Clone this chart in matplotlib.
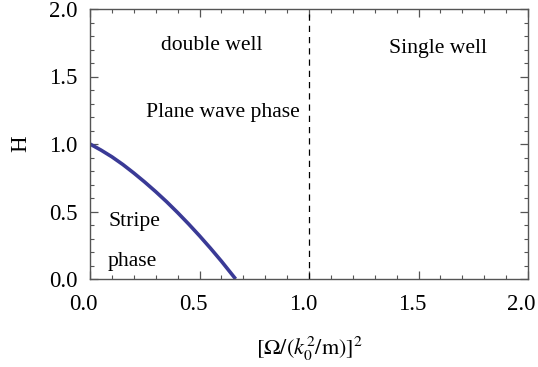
import matplotlib
matplotlib.use("Agg")
import matplotlib.pyplot as plt
from matplotlib.ticker import MultipleLocator, FormatStrFormatter
from matplotlib.transforms import ScaledTranslation

# data
boundary_x = [0.0, 0.05, 0.1, 0.15, 0.2, 0.25, 0.3, 0.35, 0.4, 0.45, 0.5, 0.55, 0.6, 0.665]
boundary_H = [1.0, 0.955, 0.905, 0.848, 0.785, 0.718, 0.647, 0.572, 0.492, 0.408, 0.320, 0.228, 0.132, 0.0]
divider_x = 1.0
region_labels = ["double well", "Plane wave phase", "Single well", "Stripe", "phase"]
region_pos = [(0.556, 1.733), (0.607, 1.23), (1.589, 1.71), (0.203, 0.425), (0.195, 0.128)]

plt.rcParams['font.family'] = ['Liberation Serif', 'DejaVu Serif']
plt.rcParams['mathtext.fontset'] = 'stix'

fig = plt.figure(figsize=(5.38, 3.67), dpi=100)
ax = fig.add_axes([90/538, 88/367, 438/538, 270/367])

ax.plot(boundary_x, boundary_H, color='#3a3a96', lw=2.6, solid_capstyle='butt')
ax.axvline(divider_x, color='black', lw=0.9, dashes=(5, 4))

for t, (x, y) in zip(region_labels, region_pos):
    ax.text(x, y, t, ha='center', va='center', fontsize=15.6)

ax.set_xlim(0, 2)
ax.set_ylim(0, 2)
ax.xaxis.set_major_locator(MultipleLocator(0.5))
ax.yaxis.set_major_locator(MultipleLocator(0.5))
ax.xaxis.set_minor_locator(MultipleLocator(0.1))
ax.yaxis.set_minor_locator(MultipleLocator(0.1))
ax.xaxis.set_major_formatter(FormatStrFormatter('%.1f'))
ax.yaxis.set_major_formatter(FormatStrFormatter('%.1f'))
ax.tick_params(which='both', direction='in', top=True, right=True, color='#555555')
ax.tick_params(which='major', length=6, width=0.9, labelsize=16.5)
ax.tick_params(axis='x', which='major', pad=11)
ax.tick_params(axis='y', which='major', pad=9)
ax.tick_params(which='minor', length=3, width=0.8)
for s in ax.spines.values():
    s.set_color('#555555')
    s.set_linewidth(1.0)

# x tick labels sit slightly left of their ticks in the reference
shift = ScaledTranslation(-4.5/72, 0, fig.dpi_scale_trans)
for lab in ax.get_xticklabels():
    lab.set_transform(lab.get_transform() + shift)

ax.set_ylabel('H', fontsize=16.5, labelpad=13)
ax.set_xlabel(r'$[\Omega/(k_0^2/\mathrm{m})]^2$', fontsize=16, labelpad=14)

fig.savefig('out.png', dpi=100)
